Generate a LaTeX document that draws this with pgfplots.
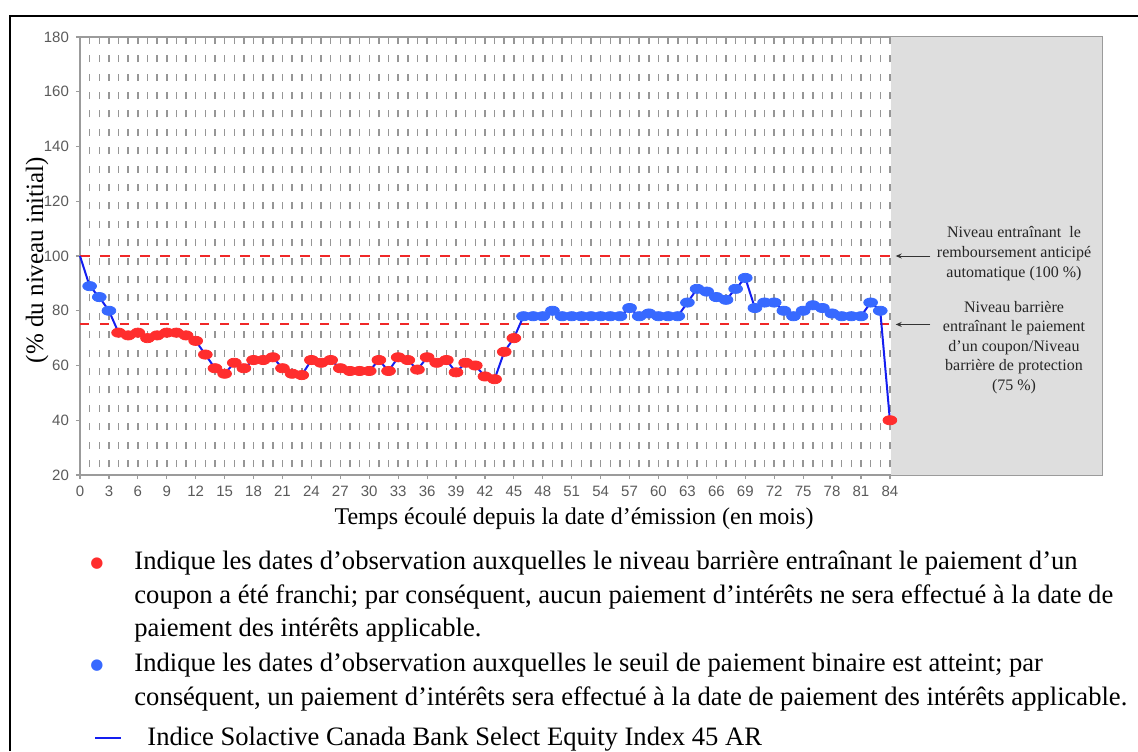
\documentclass[border=0pt]{standalone}
\usepackage{fontspec}
\setmainfont{Liberation Serif}
\newfontfamily\ticksans{Liberation Sans}
\newfontfamily\dejavu{DejaVu Sans}
\usepackage{pgfplots}
\pgfplotsset{compat=1.18}
\usepackage{pgfplotstable}
\usetikzlibrary{arrows.meta}

\definecolor{gridgray}{RGB}{150,150,150}
\definecolor{shadegray}{RGB}{222,222,222}
\definecolor{axisgray}{RGB}{155,155,155}
\definecolor{ticktext}{RGB}{90,90,90}
\definecolor{redline}{RGB}{240,40,40}
\definecolor{redmark}{RGB}{255,45,45}
\definecolor{bluemark}{RGB}{55,105,255}
\definecolor{blueline}{RGB}{20,30,240}

\pgfplotstableread{
m v
0 100
1 89
2 85
3 80
4 72
5 71
6 72
7 70
8 71
9 72
10 72
11 71
12 69
13 64
14 59
15 57
16 61
17 59
18 62
19 62
20 63
21 59
22 57
23 56.5
24 62
25 61
26 62
27 59
28 58
29 58
30 58
31 62
32 58
33 63
34 62
35 58.5
36 63
37 61
38 62
39 57.5
40 61
41 60
42 56
43 55
44 65
45 70
46 78
47 78
48 78
49 80
50 78
51 78
52 78
53 78
54 78
55 78
56 78
57 81
58 78
59 79
60 78
61 78
62 78
63 83
64 88
65 87
66 85
67 84
68 88
69 92
70 81
71 83
72 83
73 80
74 78
75 80
76 82
77 81
78 79
79 78
80 78
81 78
82 83
83 80
84 40
}\indexdata

\pgfplotstableread{
m v
4 72
5 71
6 72
7 70
8 71
9 72
10 72
11 71
12 69
13 64
14 59
15 57
16 61
17 59
18 62
19 62
20 63
21 59
22 57
23 56.5
24 62
25 61
26 62
27 59
28 58
29 58
30 58
31 62
32 58
33 63
34 62
35 58.5
36 63
37 61
38 62
39 57.5
40 61
41 60
42 56
43 55
44 65
45 70
84 40
}\reddata

\pgfplotstableread{
m v
1 89
2 85
3 80
46 78
47 78
48 78
49 80
50 78
51 78
52 78
53 78
54 78
55 78
56 78
57 81
58 78
59 79
60 78
61 78
62 78
63 83
64 88
65 87
66 85
67 84
68 88
69 92
70 81
71 83
72 83
73 80
74 78
75 80
76 82
77 81
78 79
79 78
80 78
81 78
82 83
83 80
}\bluedata

\begin{document}
\begin{tikzpicture}
\useasboundingbox (-40pt,-138pt) rectangle (529pt,237.5pt);
\begin{axis}[
  at={(0,0)}, anchor=south west,
  width=511pt, height=219pt, scale only axis,
  xmin=0, xmax=106, ymin=20, ymax=180,
  xtick={0,3,...,84}, ytick={20,40,...,180},
  minor xtick={1,...,84},
  xtick pos=bottom, ytick pos=left,
  xmajorgrids, xminorgrids,
  grid style={gridgray, line width=0.75pt, dash pattern=on 3.5pt off 5.7pt, dash phase=5.2pt},
  major grid style={gridgray, line width=0.75pt, dash pattern=on 3.5pt off 5.7pt, dash phase=5.2pt},
  minor grid style={gridgray, line width=0.75pt, dash pattern=on 3.5pt off 5.7pt, dash phase=5.2pt},
  axis line style={axisgray, line width=0.8pt},
  tick style={axisgray, line width=0.6pt},
  tick align=outside, major tick length=2pt, minor tick length=0pt,
  /pgf/number format/assume math mode=true,
  ticklabel style={font=\ticksans\fontsize{7.5}{9}\selectfont, text=ticktext},
  clip=false,
]
\fill[shadegray] (axis cs:84.12,20) rectangle (axis cs:106,180);
\addplot[redline, line width=1pt, dash pattern=on 5pt off 5pt] coordinates {(0,100) (84,100)};
\addplot[redline, line width=1pt, dash pattern=on 4.5pt off 5.5pt] coordinates {(0,75) (84,75)};
\addplot[only marks, mark=*, mark size=2.3pt, color=redmark, mark options={draw=none, fill=redmark, xscale=1.5}] table[x=m,y=v] {\reddata};
\addplot[only marks, mark=*, mark size=2.3pt, color=bluemark, mark options={draw=none, fill=bluemark, xscale=1.5}] table[x=m,y=v] {\bluedata};
\addplot[blueline, line width=1pt, no marks] table[x=m,y=v] {\indexdata};
\draw[black!80, line width=0.5pt, -{Stealth[length=3pt,width=2.5pt]}] (axis cs:88.2,100) -- (axis cs:84.6,100);
\draw[black!80, line width=0.5pt, -{Stealth[length=3pt,width=2.5pt]}] (axis cs:88.2,75) -- (axis cs:84.6,75);
\end{axis}
% frame
\draw[black, line width=1pt] (-35pt,-138pt) -- (-35pt,229.5pt) -- (529pt,229.5pt);
% axis labels
\node[rotate=90, anchor=center, font=\fontsize{12.5}{14}\selectfont] at (-21.5pt,107.5pt) {(\% du niveau initial)};
\node[anchor=center, font=\fontsize{12}{14}\selectfont] at (247pt,-22pt) {Temps écoulé depuis la date d’émission (en mois)};
% annotations
\node[align=center, font=\fontsize{8}{10}\selectfont, text=black!85] at (467pt,110.75pt) {Niveau entraînant~ le\\remboursement anticipé\\automatique (100 \%)};
\node[align=center, font=\fontsize{8}{9.8}\selectfont, text=black!85] at (467pt,63.75pt) {Niveau barrière\\entraînant le paiement\\d’un coupon/Niveau\\barrière de protection\\(75 \%)};
% legend
\node[anchor=base, text=redmark, font=\dejavu\fontsize{7.5}{8}\selectfont, inner sep=0pt] at (8.5pt,-46pt) {●};
\node[anchor=base, text=bluemark, font=\dejavu\fontsize{7.5}{8}\selectfont, inner sep=0pt] at (8.5pt,-97pt) {●};
\begin{scope}[every node/.style={anchor=base west, inner sep=0pt, font=\fontsize{13.3}{15}\selectfont}]
\node at (27pt,-47pt) {Indique les dates d’observation auxquelles le niveau barrière entraînant le paiement d’un};
\node at (27pt,-64pt) {coupon a été franchi; par conséquent, aucun paiement d’intérêts ne sera effectué à la date de};
\node at (27pt,-80.5pt) {paiement des intérêts applicable.};
\node at (27pt,-98pt) {Indique les dates d’observation auxquelles le seuil de paiement binaire est atteint; par};
\node at (27pt,-115pt) {conséquent, un paiement d’intérêts sera effectué à la date de paiement des intérêts applicable.};
\node at (7.5pt,-135pt) {\textcolor{blueline}{\rule[3pt]{13pt}{0.8pt}}};
\node at (33.5pt,-135pt) {Indice Solactive Canada Bank Select Equity Index 45 AR};
\end{scope}
\end{tikzpicture}
\end{document}
